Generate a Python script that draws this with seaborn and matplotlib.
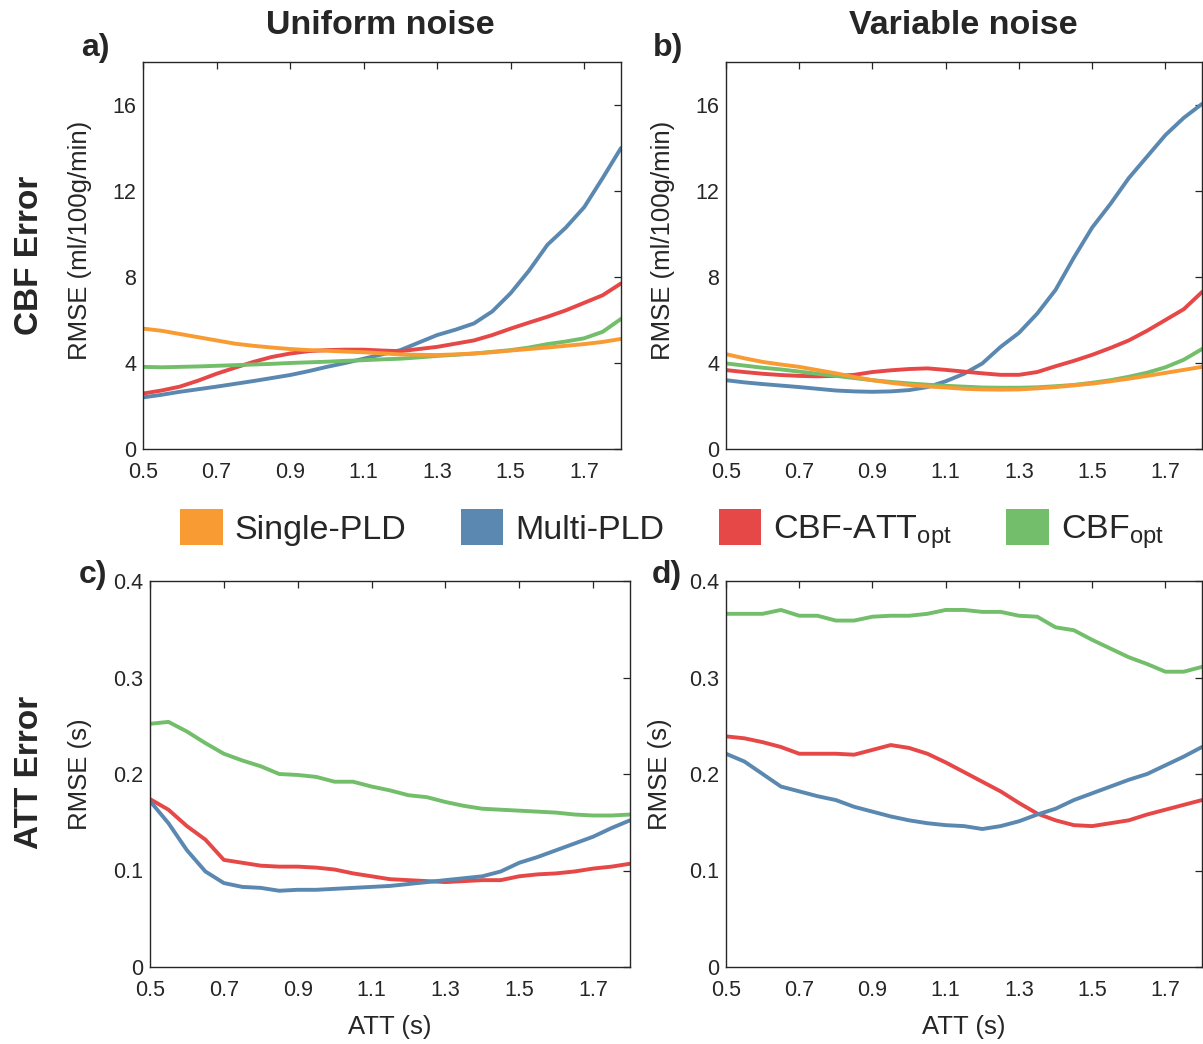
import numpy as np
import pandas as pd
import matplotlib
matplotlib.use("Agg")
import matplotlib.pyplot as plt
from matplotlib.patches import Patch
import seaborn as sns

# ---------------- data ----------------
att = [0.50, 0.55, 0.60, 0.65, 0.70, 0.75, 0.80, 0.85, 0.90, 0.95, 1.00, 1.05, 1.10,
       1.15, 1.20, 1.25, 1.30, 1.35, 1.40, 1.45, 1.50, 1.55, 1.60, 1.65, 1.70, 1.75, 1.80]

methods = ["Single-PLD", "Multi-PLD", "CBF-ATTopt", "CBFopt"]
legend_labels = ["Single-PLD", "Multi-PLD", r"CBF-ATT$_{\mathregular{opt}}$", r"CBF$_{\mathregular{opt}}$"]
colors = {"Single-PLD": "#F89B33", "Multi-PLD": "#5A88B0",
          "CBF-ATTopt": "#E64848", "CBFopt": "#72BE6A"}

# a) CBF error, uniform noise
cbf_uni_single = [5.60, 5.50, 5.35, 5.20, 5.05, 4.90, 4.80, 4.72, 4.65, 4.60, 4.57, 4.53, 4.50,
                  4.45, 4.40, 4.38, 4.37, 4.40, 4.44, 4.50, 4.58, 4.65, 4.72, 4.80, 4.88, 4.98, 5.12]
cbf_uni_multi = [2.40, 2.52, 2.66, 2.78, 2.90, 3.03, 3.16, 3.30, 3.44, 3.62, 3.82, 4.00, 4.20,
                 4.40, 4.60, 4.95, 5.30, 5.55, 5.84, 6.40, 7.25, 8.30, 9.50, 10.30, 11.25, 12.60, 14.00]
cbf_uni_cbfatt = [2.58, 2.72, 2.90, 3.18, 3.50, 3.78, 4.05, 4.28, 4.44, 4.55, 4.60, 4.62, 4.62,
                  4.58, 4.55, 4.65, 4.75, 4.90, 5.05, 5.30, 5.60, 5.88, 6.15, 6.45, 6.80, 7.15, 7.70]
cbf_uni_cbf = [3.82, 3.80, 3.82, 3.84, 3.87, 3.90, 3.93, 3.96, 4.00, 4.03, 4.06, 4.10, 4.13,
               4.17, 4.20, 4.26, 4.33, 4.38, 4.44, 4.52, 4.60, 4.72, 4.88, 5.00, 5.15, 5.45, 6.05]

# b) CBF error, variable noise
cbf_var_single = [4.41, 4.22, 4.05, 3.93, 3.82, 3.67, 3.52, 3.35, 3.20, 3.08, 2.98, 2.91, 2.86,
                  2.80, 2.77, 2.76, 2.77, 2.82, 2.88, 2.96, 3.04, 3.15, 3.27, 3.40, 3.54, 3.68, 3.82]
cbf_var_multi = [3.20, 3.10, 3.02, 2.95, 2.88, 2.80, 2.72, 2.68, 2.66, 2.68, 2.74, 2.88, 3.15,
                 3.50, 3.98, 4.75, 5.40, 6.30, 7.40, 8.90, 10.30, 11.40, 12.60, 13.60, 14.60, 15.40, 16.05]
cbf_var_cbfatt = [3.67, 3.58, 3.50, 3.44, 3.40, 3.38, 3.40, 3.45, 3.58, 3.66, 3.72, 3.75, 3.68,
                  3.60, 3.52, 3.45, 3.45, 3.58, 3.85, 4.10, 4.38, 4.70, 5.05, 5.50, 6.00, 6.50, 7.30]
cbf_var_cbf = [3.98, 3.88, 3.78, 3.70, 3.60, 3.50, 3.40, 3.30, 3.20, 3.12, 3.05, 2.99, 2.94,
               2.90, 2.86, 2.85, 2.85, 2.87, 2.92, 2.98, 3.08, 3.20, 3.36, 3.55, 3.80, 4.15, 4.65]

# c) ATT error, uniform noise
att_uni_multi = [0.172, 0.149, 0.121, 0.099, 0.087, 0.083, 0.082, 0.079, 0.080, 0.080, 0.081, 0.082, 0.083,
                 0.084, 0.086, 0.088, 0.090, 0.092, 0.094, 0.099, 0.108, 0.114, 0.121, 0.128, 0.135, 0.144, 0.152]
att_uni_cbfatt = [0.174, 0.163, 0.146, 0.132, 0.111, 0.108, 0.105, 0.104, 0.104, 0.103, 0.101, 0.097, 0.094,
                  0.091, 0.090, 0.089, 0.088, 0.089, 0.090, 0.090, 0.094, 0.096, 0.097, 0.099, 0.102, 0.104, 0.107]
att_uni_cbf = [0.252, 0.254, 0.244, 0.232, 0.221, 0.214, 0.208, 0.200, 0.199, 0.197, 0.192, 0.192, 0.187,
               0.183, 0.178, 0.176, 0.171, 0.167, 0.164, 0.163, 0.162, 0.161, 0.160, 0.158, 0.157, 0.157, 0.158]

# d) ATT error, variable noise
att_var_multi = [0.221, 0.213, 0.200, 0.187, 0.182, 0.177, 0.173, 0.166, 0.161, 0.156, 0.152, 0.149, 0.147,
                 0.146, 0.143, 0.146, 0.151, 0.158, 0.164, 0.173, 0.180, 0.187, 0.194, 0.200, 0.209, 0.218, 0.228]
att_var_cbfatt = [0.239, 0.237, 0.233, 0.228, 0.221, 0.221, 0.221, 0.220, 0.225, 0.230, 0.227, 0.221, 0.212,
                  0.202, 0.192, 0.182, 0.170, 0.159, 0.152, 0.147, 0.146, 0.149, 0.152, 0.158, 0.163, 0.168, 0.173]
att_var_cbf = [0.366, 0.366, 0.366, 0.370, 0.364, 0.364, 0.359, 0.359, 0.363, 0.364, 0.364, 0.366, 0.370,
               0.370, 0.368, 0.368, 0.364, 0.363, 0.352, 0.349, 0.339, 0.330, 0.321, 0.314, 0.306, 0.306, 0.311]

x_ticks = [0.5, 0.7, 0.9, 1.1, 1.3, 1.5, 1.7]
cbf_yticks = [0, 4, 8, 12, 16]
att_yticks = [0, 0.1, 0.2, 0.3, 0.4]
att_yticklabels = ["0", "0.1", "0.2", "0.3", "0.4"]

# ---------------- style ----------------
sns.set_theme(style="white")
plt.rcParams["font.family"] = ["Liberation Sans", "DejaVu Sans"]
plt.rcParams["mathtext.fontset"] = "custom"
plt.rcParams["mathtext.rm"] = "Liberation Sans"
plt.rcParams["mathtext.it"] = "Liberation Sans:italic"
plt.rcParams["mathtext.bf"] = "Liberation Sans:bold"

W, H = 1203, 1044
fig = plt.figure(figsize=(W / 100, H / 100), dpi=100)

def frac_rect(l, t, r, b):
    return [l / W, 1 - b / H, (r - l) / W, (b - t) / H]

ax_a = fig.add_axes(frac_rect(143, 62, 621, 449))
ax_b = fig.add_axes(frac_rect(726, 62, 1202, 449))
ax_c = fig.add_axes(frac_rect(150, 581, 630, 967))
ax_d = fig.add_axes(frac_rect(726, 581, 1202, 967))

def long_df(series):
    rows = []
    for m, vals in series.items():
        for x, v in zip(att, vals):
            rows.append({"ATT": x, "RMSE": v, "method": m})
    return pd.DataFrame(rows)

panels = [
    (ax_a, {"Multi-PLD": cbf_uni_multi, "CBF-ATTopt": cbf_uni_cbfatt,
            "CBFopt": cbf_uni_cbf, "Single-PLD": cbf_uni_single}, "cbf"),
    (ax_b, {"Multi-PLD": cbf_var_multi, "CBF-ATTopt": cbf_var_cbfatt,
            "CBFopt": cbf_var_cbf, "Single-PLD": cbf_var_single}, "cbf"),
    (ax_c, {"CBFopt": att_uni_cbf, "CBF-ATTopt": att_uni_cbfatt,
            "Multi-PLD": att_uni_multi}, "att"),
    (ax_d, {"CBFopt": att_var_cbf, "CBF-ATTopt": att_var_cbfatt,
            "Multi-PLD": att_var_multi}, "att"),
]

tick_color = "#262626"
for ax, series, kind in panels:
    df = long_df(series)
    order = list(series.keys())
    sns.lineplot(data=df, x="ATT", y="RMSE", hue="method", hue_order=order,
                 palette=colors, linewidth=2.8, legend=False, ax=ax)
    ax.set_xlim(0.5, 1.8)
    ax.set_xticks(x_ticks)
    ax.set_xticklabels([f"{t:.1f}" for t in x_ticks])
    if kind == "cbf":
        ax.set_ylim(0, 18)
        ax.set_yticks(cbf_yticks)
        ax.set_yticklabels([str(t) for t in cbf_yticks])
    else:
        ax.set_ylim(0, 0.4)
        ax.set_yticks(att_yticks)
        ax.set_yticklabels(att_yticklabels)
    ax.set_xlabel("")
    ax.set_ylabel("")
    ax.tick_params(direction="in", top=True, right=True, length=5, width=0.9,
                   labelsize=15.5, colors=tick_color)
    ax.tick_params(axis="x", pad=9)
    ax.tick_params(axis="y", pad=5)
    for sp in ax.spines.values():
        sp.set_visible(True)
        sp.set_color(tick_color)
        sp.set_linewidth(1.0)

# axis labels
for ax, lab, xc, yc in [(ax_a, "RMSE (ml/100g/min)", -0.132, 0.54),
                        (ax_b, "RMSE (ml/100g/min)", -0.132, 0.54),
                        (ax_c, "RMSE (s)", -0.146, 0.50),
                        (ax_d, "RMSE (s)", -0.139, 0.50)]:
    ax.set_ylabel(lab, fontsize=18.5, color=tick_color)
    ax.yaxis.set_label_coords(xc, yc)
    ax.yaxis.label.set_va("center")

for ax in (ax_c, ax_d):
    ax.set_xlabel("ATT (s)", fontsize=18.5, color=tick_color)
    ax.xaxis.set_label_coords(0.5, -0.155)
    ax.xaxis.label.set_va("center")

# titles / panel letters / row labels
fig.text(380 / W, 1 - 25 / H, "Uniform noise", ha="center", va="center",
         fontsize=24.5, fontweight="bold")
fig.text(963 / W, 1 - 25 / H, "Variable noise", ha="center", va="center",
         fontsize=24.5, fontweight="bold")
for lab, x, y in [("a)", 95, 48), ("b)", 668, 48), ("c)", 93, 575), ("d)", 667, 575)]:
    fig.text(x / W, 1 - y / H, lab, ha="center", va="center", fontsize=23, fontweight="bold")
fig.text(30 / W, 1 - 255 / H, "CBF Error", rotation=90, ha="center", va="center",
         fontsize=24, fontweight="bold")
fig.text(30 / W, 1 - 772 / H, "ATT Error", rotation=90, ha="center", va="center",
         fontsize=24, fontweight="bold")

# legend
handles = [Patch(facecolor=colors[m], edgecolor="none") for m in methods]
fig.legend(handles, legend_labels, loc="center", bbox_to_anchor=(672 / W, 1 - 530 / H),
           ncol=4, frameon=False, fontsize=24.5, handlelength=1.25, handleheight=1.25,
           handletextpad=0.35, columnspacing=1.6, borderaxespad=0)

fig.savefig("out.png", dpi=100)
